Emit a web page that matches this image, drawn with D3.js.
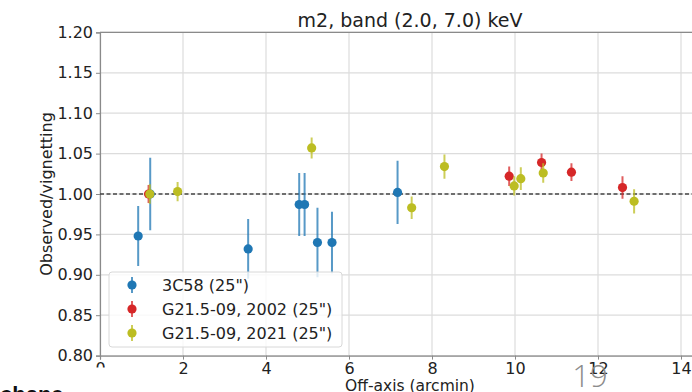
<!DOCTYPE html>
<html>
<head>
<meta charset="utf-8">
<script src="https://cdn.jsdelivr.net/npm/d3@7"></script>
<style>
  body { margin: 0; background: #fff; }
  svg { display: block; font-family: "DejaVu Sans", sans-serif; }
</style>
</head>
<body>
<div id="content"></div>
<script>
// values
var c58_x   = [0.92, 1.21, 3.57, 4.80, 4.93, 5.24, 5.59, 7.17];
var c58_y   = [0.948, 1.000, 0.932, 0.987, 0.987, 0.940, 0.940, 1.002];
var c58_err = [0.037, 0.045, 0.037, 0.039, 0.039, 0.043, 0.038, 0.039];

var g02_x   = [1.17, 9.86, 10.64, 11.36, 12.59];
var g02_y   = [1.000, 1.022, 1.039, 1.027, 1.008];
var g02_err = [0.011, 0.012, 0.011, 0.011, 0.014];

var g21_x   = [1.20, 1.87, 5.10, 7.51, 8.30, 9.98, 10.14, 10.68, 12.87];
var g21_y   = [1.000, 1.003, 1.057, 0.983, 1.034, 1.010, 1.019, 1.026, 0.991];
var g21_err = [0.012, 0.012, 0.013, 0.014, 0.015, 0.012, 0.014, 0.012, 0.015];

var series_names  = ['3C58 (25")', 'G21.5-09, 2002 (25")', 'G21.5-09, 2021 (25")'];
var series_colors = ["#1f77b4", "#d62728", "#bcbd22"];

var x_ticks = [0, 2, 4, 6, 8, 10, 12, 14];
var y_ticks = [0.80, 0.85, 0.90, 0.95, 1.00, 1.05, 1.10, 1.15, 1.20];

var w = 692, h = 392;

var svg = d3.select("#content").append("svg")
          .attr("width", w)
          .attr("height", h);

var x = d3.scaleLinear().domain([0, 15]).range([100, 722.5]);
var y = d3.scaleLinear().domain([0.80, 1.20]).range([355.6, 32.4]);

svg.append("clipPath").attr("id", "plot")
   .append("rect")
   .attr("x", x(0)).attr("y", y(1.2))
   .attr("width", x(15) - x(0)).attr("height", y(0.8) - y(1.2));

// grid
svg.append("g").selectAll("line")
   .data(x_ticks)
   .enter().append("line")
   .attr("x1", function(d){return x(d)}).attr("x2", function(d){return x(d)})
   .attr("y1", y(0.8)).attr("y2", y(1.2))
   .attr("stroke", "#dcdcdc").attr("stroke-width", 1.2);

svg.append("g").selectAll("line")
   .data(y_ticks)
   .enter().append("line")
   .attr("x1", x(0)).attr("x2", x(15))
   .attr("y1", function(d){return y(d)}).attr("y2", function(d){return y(d)})
   .attr("stroke", "#dcdcdc").attr("stroke-width", 1.2);

// axes
var xAxis = svg.append("g")
   .attr("transform", "translate(0," + y(0.8) + ")")
   .call(d3.axisBottom(x).tickValues(x_ticks).tickSize(4).tickPadding(3));
var yAxis = svg.append("g")
   .attr("transform", "translate(" + x(0) + ",0)")
   .call(d3.axisLeft(y).tickValues(y_ticks).tickSize(4).tickPadding(3)
         .tickFormat(d3.format(".2f")));

[xAxis, yAxis].forEach(function(a){
  a.select(".domain").attr("stroke", "#8a8a8a").attr("stroke-width", 1.2);
  a.selectAll(".tick line").attr("stroke", "#8a8a8a");
  a.selectAll("text").attr("fill", "#222").style("font-size", "16px")
   .style("font-family", "DejaVu Sans, sans-serif");
});

// top spine
svg.append("line")
   .attr("x1", x(0)).attr("x2", x(15))
   .attr("y1", y(1.2)).attr("y2", y(1.2))
   .attr("stroke", "#8a8a8a").attr("stroke-width", 1.2);

// the "0" tick label is cut in the picture
xAxis.selectAll(".tick").filter(function(d){return d === 0})
     .select("text").attr("clip-path", "inset(0 0 55% 0)");

// reference line
svg.append("line")
   .attr("x1", x(0)).attr("x2", x(15))
   .attr("y1", y(1)).attr("y2", y(1))
   .attr("stroke", "#444").attr("stroke-width", 1.5)
   .attr("stroke-dasharray", "4,2.5");

// data
var series = [
  {xs: c58_x, ys: c58_y, es: c58_err},
  {xs: g02_x, ys: g02_y, es: g02_err},
  {xs: g21_x, ys: g21_y, es: g21_err}
];

var plot = svg.append("g").attr("clip-path", "url(#plot)");

series.forEach(function(s, k){
  var pts = s.xs.map(function(d, i){ return {x: d, y: s.ys[i], e: s.es[i]}; });
  var g = plot.append("g");
  g.selectAll("line")
   .data(pts)
   .enter().append("line")
   .attr("x1", function(d){return x(d.x)}).attr("x2", function(d){return x(d.x)})
   .attr("y1", function(d){return y(d.y - d.e)}).attr("y2", function(d){return y(d.y + d.e)})
   .attr("stroke", series_colors[k]).attr("stroke-width", 2)
   .attr("stroke-opacity", 0.75);
  g.selectAll("circle")
   .data(pts)
   .enter().append("circle")
   .attr("cx", function(d){return x(d.x)})
   .attr("cy", function(d){return y(d.y)})
   .attr("r", 4.6)
   .attr("fill", series_colors[k]);
});

// legend
var legend = svg.append("g");
legend.append("rect")
   .attr("x", 109).attr("y", 272).attr("width", 233).attr("height", 75)
   .attr("rx", 3)
   .attr("fill", "#fff").attr("fill-opacity", 0.8)
   .attr("stroke", "#d8d8d8");

var items = legend.selectAll("g.item")
   .data(series_names)
   .enter().append("g")
   .attr("transform", function(d, i){ return "translate(132," + (285 + i * 24) + ")"; });

items.append("line")
   .attr("y1", -8).attr("y2", 8)
   .attr("stroke", function(d, i){return series_colors[i]})
   .attr("stroke-width", 2).attr("stroke-opacity", 0.75);
items.append("circle")
   .attr("r", 4.6)
   .attr("fill", function(d, i){return series_colors[i]});
items.append("text")
   .attr("x", 30).attr("y", 6)
   .attr("fill", "#222")
   .style("font-size", "16px")
   .text(function(d){return d});

// titles
svg.append("text")
   .attr("x", 410).attr("y", 27)
   .attr("text-anchor", "middle")
   .attr("fill", "#222")
   .style("font-size", "19px")
   .text("m2, band (2.0, 7.0) keV");

svg.append("text")
   .attr("x", 410).attr("y", 391)
   .attr("text-anchor", "middle")
   .attr("fill", "#222")
   .style("font-size", "15.5px")
   .text("Off-axis (arcmin)");

svg.append("text")
   .attr("transform", "translate(52," + y(1.0) + ") rotate(-90)")
   .attr("text-anchor", "middle")
   .attr("fill", "#222")
   .style("font-size", "16px")
   .text("Observed/vignetting");

// slide leftovers
svg.append("text")
   .attr("x", 590).attr("y", 387)
   .attr("text-anchor", "middle")
   .attr("fill", "#8c8c8c")
   .style("font-family", "Open Sans, sans-serif")
   .style("font-weight", 300)
   .style("font-size", "31px")
   .text("19");

svg.append("text")
   .attr("x", 0).attr("y", 402)
   .attr("fill", "#111")
   .style("font-family", "Liberation Sans, sans-serif")
   .style("font-weight", "bold")
   .style("font-size", "22px")
   .text("chane");
</script>
</body>
</html>
